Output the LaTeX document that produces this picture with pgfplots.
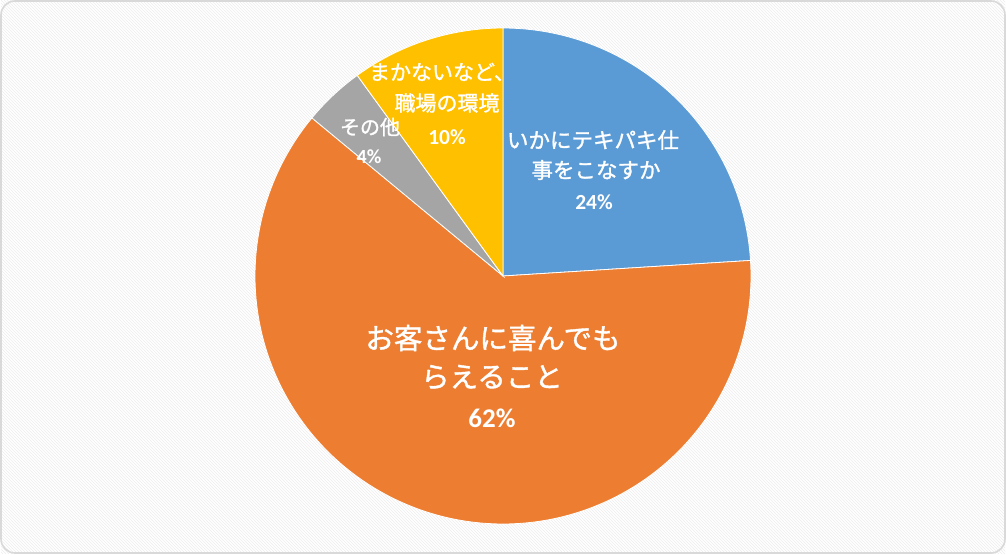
\documentclass[border=0pt]{standalone}
\usepackage{pgfplots}
\pgfplotsset{compat=1.18}
\usepgfplotslibrary{polar}
\usetikzlibrary{patterns}
\usepackage{fontspec}
\newfontfamily\jp{Noto Sans CJK JP}[FakeBold=1.3]
\newfontfamily\num{Carlito}

\definecolor{cBlue}{HTML}{5B9BD5}
\definecolor{cOrange}{HTML}{ED7D31}
\definecolor{cGray}{HTML}{A5A5A5}
\definecolor{cYellow}{HTML}{FFC000}
\definecolor{frame}{HTML}{D9D9D9}

% shares in percent, clockwise from 12 o'clock
\def\sA{24} % いかにテキパキ仕事をこなすか
\def\sB{62} % お客さんに喜んでもらえること
\def\sC{4}  % その他
\def\sD{10} % まかないなど、職場の環境

\pgfmathsetmacro\aA{90}
\pgfmathsetmacro\aB{90-3.6*\sA}
\pgfmathsetmacro\aC{\aB-3.6*\sB}
\pgfmathsetmacro\aD{\aC-3.6*\sC}
\pgfmathsetmacro\aE{\aD-3.6*\sD}

\begin{document}
\begin{tikzpicture}[x=1pt,y=1pt]
\fill[white] (0,0) rectangle (1006,554);
\fill[pattern=north west lines, pattern color=black!7] (1,1) rectangle (1005,553);
\draw[frame, line width=1.6pt, rounded corners=14pt] (1,1) rectangle (1005,553);

\begin{polaraxis}[
  hide axis,
  scale only axis,
  width=496pt, height=496pt,
  xmin=0, xmax=360, ymin=0, ymax=1,
  at={(503pt,278pt)}, anchor=center,
  clip=false,
]
\addplot[fill=cBlue, draw=white, line width=0.8pt, domain=\aB:\aA, samples=80] {1} -- (axis cs:0,0) -- cycle;
\addplot[fill=cOrange, draw=white, line width=0.8pt, domain=\aC:\aB, samples=180] {1} -- (axis cs:0,0) -- cycle;
\addplot[fill=cGray, draw=white, line width=0.8pt, domain=\aD:\aC, samples=20] {1} -- (axis cs:0,0) -- cycle;
\addplot[fill=cYellow, draw=white, line width=0.8pt, domain=\aE:\aD, samples=40] {1} -- (axis cs:0,0) -- cycle;
\end{polaraxis}

\begin{scope}[every node/.style={text=white, inner sep=0pt, align=center}]
\node[font=\jp\fontsize{21.5}{30}\selectfont] at (593,554-140) {いかにテキパキ仕};
\node[font=\jp\fontsize{21.5}{30}\selectfont] at (596,554-170) {事をこなすか};
\node[font=\num\bfseries\fontsize{21.5}{25}\selectfont] at (594,554-202) {24\%};

\node[font=\jp\fontsize{28.5}{36}\selectfont] at (493,554-338) {お客さんに喜んでも};
\node[font=\jp\fontsize{28.5}{36}\selectfont] at (492,554-377) {らえること};
\node[font=\num\bfseries\fontsize{27}{30}\selectfont] at (492,554-418) {62\%};

\node[font=\jp\fontsize{20}{26}\selectfont] at (370,554-127) {その他};
\node[font=\num\bfseries\fontsize{20}{24}\selectfont] at (369,554-157) {4\%};

\node[font=\jp\fontsize{21}{30}\selectfont] at (442,554-72) {まかないなど、};
\node[font=\jp\fontsize{21}{30}\selectfont] at (447,554-103) {職場の環境};
\node[font=\num\bfseries\fontsize{21.5}{25}\selectfont] at (447,554-137) {10\%};
\end{scope}
\end{tikzpicture}
\end{document}
